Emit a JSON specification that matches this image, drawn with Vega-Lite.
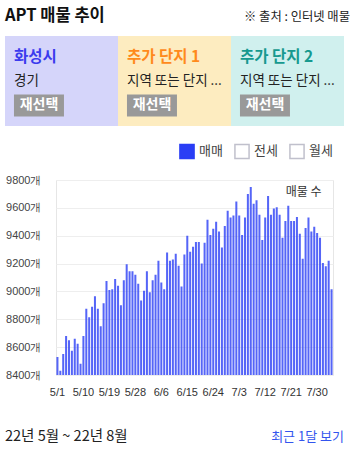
{
  "$schema": "https://vega.github.io/schema/vega-lite/v6.json",
  "padding": {"left": 4, "top": 0, "right": 3, "bottom": 0},
  "spacing": 16,
  "resolve": {
    "scale": {"fill": "independent", "stroke": "independent", "color": "independent", "xOffset": "independent"},
    "legend": {"fill": "independent", "stroke": "independent", "color": "independent"}
  },
  "config": {
    "font": "Noto Sans CJK KR",
    "view": {"stroke": null, "fill": "#ffffff"},
    "legend": {"layout": {"top": {"anchor": "end"}}}
  },
  "vconcat": [
    {
      "spacing": 11,
      "resolve": {
        "scale": {"fill": "independent", "color": "independent", "xOffset": "independent"},
        "legend": {"fill": "independent", "color": "independent"}
      },
      "vconcat": [
        {
          "width": 277,
          "height": 17,
          "data": {"values": [
            {"side": "L", "t": "APT 매물 추이"},
            {"side": "R", "t": "※ 출처 : 인터넷 매물"}
          ]},
          "layer": [
            {
              "transform": [{"filter": "datum.side === 'L'"}],
              "mark": {"type": "text", "align": "left", "baseline": "alphabetic", "fontSize": 16.5, "fontWeight": "bold", "dy": 12.5, "color": "#111111"},
              "encoding": {
                "x": {"field": "side", "type": "nominal", "bandPosition": 0, "scale": {"type": "band", "domain": ["L", "R"], "paddingInner": 0, "paddingOuter": 0, "range": [-51, 294]}, "axis": null},
                "text": {"field": "t"}
              }
            },
            {
              "transform": [{"filter": "datum.side === 'R'"}],
              "mark": {"type": "text", "align": "right", "baseline": "alphabetic", "fontSize": 12.3, "dy": 12.5, "color": "#222222"},
              "encoding": {
                "x": {"field": "side", "type": "nominal", "bandPosition": 1, "scale": {"type": "band", "domain": ["L", "R"], "paddingInner": 0, "paddingOuter": 0, "range": [-51, 294]}, "axis": null},
                "text": {"field": "t"}
              }
            }
          ]
        },
        {
          "width": 277,
          "height": 90,
          "data": {"values": [
            {"slot": "1", "role": "name", "t": "화성시"},
            {"slot": "1", "role": "sub", "t": "경기"},
            {"slot": "1", "role": "btn", "t": "재선택"},
            {"slot": "2", "role": "name", "t": "추가 단지 1"},
            {"slot": "2", "role": "sub", "t": "지역 또는 단지 ..."},
            {"slot": "2", "role": "btn", "t": "재선택"},
            {"slot": "3", "role": "name", "t": "추가 단지 2"},
            {"slot": "3", "role": "sub", "t": "지역 또는 단지 ..."},
            {"slot": "3", "role": "btn", "t": "재선택"}
          ]},
          "layer": [
            {
              "transform": [{"filter": "datum.role === 'name'"}],
              "mark": {"type": "bar"},
              "encoding": {
                "x": {"field": "slot", "type": "nominal", "scale": {"paddingInner": 0, "paddingOuter": 0, "range": [-51, 288]}, "axis": null},
                "fill": {"field": "slot", "type": "nominal", "scale": {"domain": ["1", "2", "3"], "range": ["#d5d5fa", "#fdecc0", "#d0f0ee"]}, "legend": null}
              }
            },
            {
              "transform": [{"filter": "datum.role === 'btn'"}],
              "mark": {"type": "bar", "color": "#999999"},
              "encoding": {
                "x": {"field": "slot", "type": "nominal", "scale": {"paddingInner": 0, "paddingOuter": 0, "range": [-51, 288]}, "axis": null},
                "xOffset": {"field": "role", "type": "nominal", "scale": {"domain": ["btn", "rest"], "paddingInner": 0, "paddingOuter": 0.13, "align": 0.69}},
                "y": {"field": "role", "type": "nominal", "scale": {"domain": ["name", "sub", "btn"], "paddingInner": 0.1, "paddingOuter": 0.387}, "axis": null}
              }
            },
            {
              "transform": [{"filter": "datum.role === 'btn'"}],
              "mark": {"type": "text", "color": "#ffffff", "fontWeight": "bold", "fontSize": 14, "baseline": "middle"},
              "encoding": {
                "x": {"field": "slot", "type": "nominal", "scale": {"paddingInner": 0, "paddingOuter": 0, "range": [-51, 288]}, "axis": null},
                "xOffset": {"field": "role", "type": "nominal", "scale": {"domain": ["btn", "rest"], "paddingInner": 0, "paddingOuter": 0.13, "align": 0.69}},
                "y": {"field": "role", "type": "nominal", "scale": {"domain": ["name", "sub", "btn"], "paddingInner": 0.1, "paddingOuter": 0.387}, "axis": null},
                "text": {"field": "t"}
              }
            },
            {
              "transform": [{"filter": "datum.role === 'name'"}],
              "mark": {"type": "text", "align": "left", "baseline": "middle", "dx": 9, "fontSize": 15.5, "fontWeight": "bold"},
              "encoding": {
                "x": {"field": "slot", "type": "nominal", "bandPosition": 0, "scale": {"paddingInner": 0, "paddingOuter": 0, "range": [-51, 288]}, "axis": null},
                "y": {"field": "role", "type": "nominal", "scale": {"domain": ["name", "sub", "btn"], "paddingInner": 0.1, "paddingOuter": 0.387}, "axis": null},
                "color": {"field": "slot", "type": "nominal", "scale": {"domain": ["1", "2", "3"], "range": ["#3b3bee", "#ff8a1c", "#17998f"]}, "legend": null},
                "text": {"field": "t"}
              }
            },
            {
              "transform": [{"filter": "datum.role === 'sub'"}],
              "mark": {"type": "text", "align": "left", "baseline": "middle", "dx": 9, "fontSize": 13.5, "color": "#222222"},
              "encoding": {
                "x": {"field": "slot", "type": "nominal", "bandPosition": 0, "scale": {"paddingInner": 0, "paddingOuter": 0, "range": [-51, 288]}, "axis": null},
                "y": {"field": "role", "type": "nominal", "scale": {"domain": ["name", "sub", "btn"], "paddingInner": 0.1, "paddingOuter": 0.387}, "axis": null},
                "text": {"field": "t"}
              }
            }
          ]
        }
      ]
    },
    {
      "spacing": 21,
      "resolve": {
        "scale": {"fill": "independent", "stroke": "independent"},
        "legend": {"fill": "independent", "stroke": "independent"}
      },
      "vconcat": [
        {
          "width": 277,
          "height": 195,
          "view": {"stroke": "#e6e6e6"},
          "layer": [
            {
              "data": {"values": [
                {"d": "5/1", "n": 8530, "type": "매매"}, {"d": "5/2", "n": 8430, "type": "매매"}, {"d": "5/3", "n": 8550, "type": "매매"}, {"d": "5/4", "n": 8680, "type": "매매"},
                {"d": "5/5", "n": 8650, "type": "매매"}, {"d": "5/6", "n": 8575, "type": "매매"}, {"d": "5/7", "n": 8660, "type": "매매"}, {"d": "5/8", "n": 8625, "type": "매매"},
                {"d": "5/9", "n": 8480, "type": "매매"}, {"d": "5/10", "n": 8680, "type": "매매"}, {"d": "5/11", "n": 8875, "type": "매매"}, {"d": "5/12", "n": 8815, "type": "매매"},
                {"d": "5/13", "n": 8890, "type": "매매"}, {"d": "5/14", "n": 8965, "type": "매매"}, {"d": "5/15", "n": 8875, "type": "매매"}, {"d": "5/16", "n": 8750, "type": "매매"},
                {"d": "5/17", "n": 8915, "type": "매매"}, {"d": "5/18", "n": 9075, "type": "매매"}, {"d": "5/19", "n": 9010, "type": "매매"}, {"d": "5/20", "n": 9015, "type": "매매"},
                {"d": "5/21", "n": 9090, "type": "매매"}, {"d": "5/22", "n": 9040, "type": "매매"}, {"d": "5/23", "n": 8900, "type": "매매"}, {"d": "5/24", "n": 9080, "type": "매매"},
                {"d": "5/25", "n": 9195, "type": "매매"}, {"d": "5/26", "n": 9145, "type": "매매"}, {"d": "5/27", "n": 9145, "type": "매매"}, {"d": "5/28", "n": 9120, "type": "매매"},
                {"d": "5/29", "n": 9055, "type": "매매"}, {"d": "5/30", "n": 8935, "type": "매매"}, {"d": "5/31", "n": 9005, "type": "매매"}, {"d": "6/1", "n": 9145, "type": "매매"},
                {"d": "6/2", "n": 8995, "type": "매매"}, {"d": "6/3", "n": 9080, "type": "매매"}, {"d": "6/4", "n": 9120, "type": "매매"}, {"d": "6/5", "n": 9220, "type": "매매"},
                {"d": "6/6", "n": 9065, "type": "매매"}, {"d": "6/7", "n": 9015, "type": "매매"}, {"d": "6/8", "n": 9280, "type": "매매"}, {"d": "6/9", "n": 9220, "type": "매매"},
                {"d": "6/10", "n": 9230, "type": "매매"}, {"d": "6/11", "n": 9270, "type": "매매"}, {"d": "6/12", "n": 9185, "type": "매매"}, {"d": "6/13", "n": 9035, "type": "매매"},
                {"d": "6/14", "n": 9265, "type": "매매"}, {"d": "6/15", "n": 9400, "type": "매매"}, {"d": "6/16", "n": 9285, "type": "매매"}, {"d": "6/17", "n": 9320, "type": "매매"},
                {"d": "6/18", "n": 9355, "type": "매매"}, {"d": "6/19", "n": 9355, "type": "매매"}, {"d": "6/20", "n": 9200, "type": "매매"}, {"d": "6/21", "n": 9350, "type": "매매"},
                {"d": "6/22", "n": 9515, "type": "매매"}, {"d": "6/23", "n": 9405, "type": "매매"}, {"d": "6/24", "n": 9450, "type": "매매"}, {"d": "6/25", "n": 9500, "type": "매매"},
                {"d": "6/26", "n": 9430, "type": "매매"}, {"d": "6/27", "n": 9315, "type": "매매"}, {"d": "6/28", "n": 9470, "type": "매매"}, {"d": "6/29", "n": 9580, "type": "매매"},
                {"d": "6/30", "n": 9530, "type": "매매"}, {"d": "7/1", "n": 9545, "type": "매매"}, {"d": "7/2", "n": 9645, "type": "매매"}, {"d": "7/3", "n": 9545, "type": "매매"},
                {"d": "7/4", "n": 9405, "type": "매매"}, {"d": "7/5", "n": 9530, "type": "매매"}, {"d": "7/6", "n": 9700, "type": "매매"}, {"d": "7/7", "n": 9750, "type": "매매"},
                {"d": "7/8", "n": 9630, "type": "매매"}, {"d": "7/9", "n": 9655, "type": "매매"}, {"d": "7/10", "n": 9550, "type": "매매"}, {"d": "7/11", "n": 9370, "type": "매매"},
                {"d": "7/12", "n": 9530, "type": "매매"}, {"d": "7/13", "n": 9685, "type": "매매"}, {"d": "7/14", "n": 9550, "type": "매매"}, {"d": "7/15", "n": 9595, "type": "매매"},
                {"d": "7/16", "n": 9605, "type": "매매"}, {"d": "7/17", "n": 9550, "type": "매매"}, {"d": "7/18", "n": 9385, "type": "매매"}, {"d": "7/19", "n": 9505, "type": "매매"},
                {"d": "7/20", "n": 9615, "type": "매매"}, {"d": "7/21", "n": 9505, "type": "매매"}, {"d": "7/22", "n": 9505, "type": "매매"}, {"d": "7/23", "n": 9535, "type": "매매"},
                {"d": "7/24", "n": 9415, "type": "매매"}, {"d": "7/25", "n": 9235, "type": "매매"}, {"d": "7/26", "n": 9455, "type": "매매"}, {"d": "7/27", "n": 9530, "type": "매매"},
                {"d": "7/28", "n": 9430, "type": "매매"}, {"d": "7/29", "n": 9465, "type": "매매"}, {"d": "7/30", "n": 9420, "type": "매매"}, {"d": "7/31", "n": 9385, "type": "매매"},
                {"d": "8/1", "n": 9205, "type": "매매"}, {"d": "8/2", "n": 9180, "type": "매매"}, {"d": "8/3", "n": 9220, "type": "매매"}, {"d": "8/4", "n": 9015, "type": "매매"}
              ]},
              "mark": {"type": "bar", "clip": true, "fillOpacity": 0.8, "strokeWidth": 0},
              "encoding": {
                "x": {
                  "field": "d", "type": "ordinal", "sort": null,
                  "scale": {"paddingInner": 0.3, "paddingOuter": 0.15},
                  "axis": {"values": ["5/1", "5/10", "5/19", "5/28", "6/6", "6/15", "6/24", "7/3", "7/12", "7/21", "7/30"], "labelAngle": 0, "title": null, "ticks": false, "domain": false, "grid": false, "labelFontSize": 11, "labelColor": "#333333", "labelPadding": 11, "labelFont": "Liberation Sans"}
                },
                "y": {
                  "field": "n", "type": "quantitative",
                  "scale": {"domain": [8400, 9800], "zero": false, "nice": false},
                  "axis": {"values": [8400, 8600, 8800, 9000, 9200, 9400, 9600, 9800], "labelExpr": "datum.value + '개'", "title": null, "ticks": false, "domain": false, "gridColor": "#eeeeee", "labelFontSize": 11, "labelColor": "#444444", "labelPadding": 15, "minExtent": 51, "labelFont": "Liberation Sans"}
                },
                "fill": {
                  "field": "type", "type": "nominal",
                  "scale": {"domain": ["매매", "전세", "월세"], "range": ["#2a3ef5", "#ffffff", "#ffffff"]},
                  "legend": {"orient": "top", "direction": "horizontal", "title": null, "symbolType": "square", "symbolSize": 200, "symbolStrokeWidth": 1.5, "labelFontSize": 13, "labelColor": "#444444", "offset": 18, "columnPadding": 8, "labelOffset": 4}
                },
                "stroke": {
                  "field": "type", "type": "nominal",
                  "scale": {"domain": ["매매", "전세", "월세"], "range": ["#2a3ef5", "#c0c0cc", "#c0c0cc"]},
                  "legend": {"orient": "top", "direction": "horizontal", "title": null, "symbolType": "square", "symbolSize": 200, "symbolStrokeWidth": 1.5, "labelFontSize": 13, "labelColor": "#444444", "offset": 18, "columnPadding": 8, "labelOffset": 4}
                }
              }
            },
            {
              "data": {"values": [{"t": "매물 수"}]},
              "mark": {"type": "text", "align": "right", "baseline": "middle", "dx": 127, "dy": -86, "fontSize": 12, "color": "#333333"},
              "encoding": {"text": {"field": "t"}}
            }
          ]
        },
        {
          "width": 277,
          "height": 36,
          "data": {"values": [
            {"side": "L", "t": "22년 5월 ~ 22년 8월"},
            {"side": "R", "t": "최근 1달 보기"}
          ]},
          "layer": [
            {
              "transform": [{"filter": "datum.side === 'L'"}],
              "mark": {"type": "text", "align": "left", "baseline": "middle", "fontSize": 14.5, "color": "#222222"},
              "encoding": {
                "x": {"field": "side", "type": "nominal", "bandPosition": 0, "scale": {"type": "band", "domain": ["L", "R"], "paddingInner": 0, "paddingOuter": 0, "range": [-51, 288]}, "axis": null},
                "text": {"field": "t"}
              }
            },
            {
              "transform": [{"filter": "datum.side === 'R'"}],
              "mark": {"type": "text", "align": "right", "baseline": "middle", "fontSize": 13, "color": "#3355ee"},
              "encoding": {
                "x": {"field": "side", "type": "nominal", "bandPosition": 1, "scale": {"type": "band", "domain": ["L", "R"], "paddingInner": 0, "paddingOuter": 0, "range": [-51, 288]}, "axis": null},
                "text": {"field": "t"}
              }
            }
          ]
        }
      ]
    }
  ]
}
